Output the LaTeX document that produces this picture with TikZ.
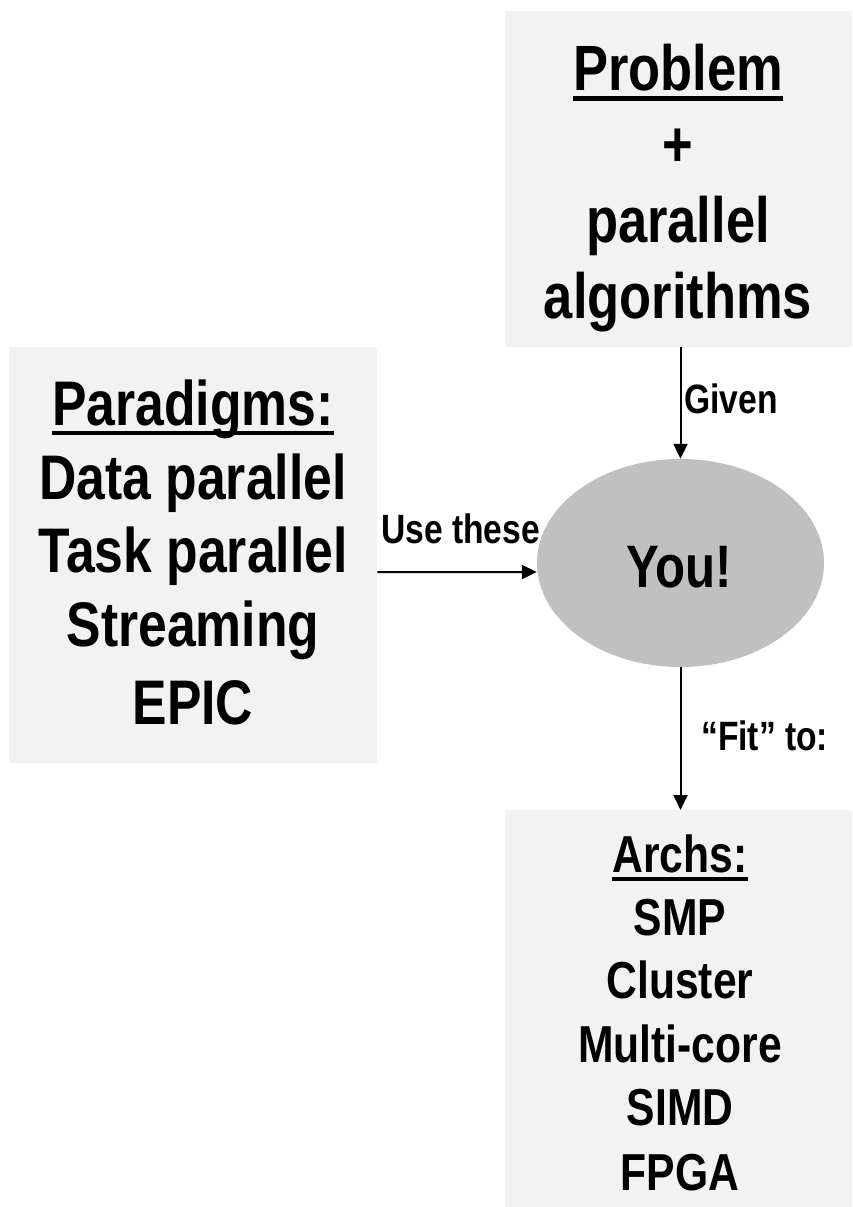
\documentclass[tikz,border=0pt]{standalone}
\usepackage{fontspec}
\newfontfamily\nar[FakeStretch=0.82]{Liberation Sans Bold}
\usetikzlibrary{shapes.geometric,arrows.meta}
\newcommand{\myul}[1]{\setbox0\hbox{#1}\rlap{\rule[-0.165em]{\wd0}{0.065em}}\box0}
\definecolor{boxgray}{HTML}{F2F2F2}
\definecolor{ellgray}{HTML}{C0C0C0}
\begin{document}
\begin{tikzpicture}[x=1pt,y=-1pt,
  panel/.style={fill=boxgray, draw=none, inner sep=0pt, anchor=north west},
  txt/.style={anchor=base, inner sep=0pt},
  fa/.style={font=\nar\fontsize{64}{76}\selectfont},
  fb/.style={font=\nar\fontsize{63}{74}\selectfont},
  fc/.style={font=\nar\fontsize{52}{63}\selectfont},
  lbl/.style={anchor=base west, inner sep=0pt, font=\nar\fontsize{41}{48}\selectfont},
  arr/.style={line width=2pt, -{Triangle[length=15pt,width=14pt]}}]
\useasboundingbox (0,0) rectangle (852,1207);
% panels
\node[panel, minimum width=347pt, minimum height=336pt] (prob) at (505,11) {};
\node[panel, minimum width=368pt, minimum height=416pt] (para) at (9,347) {};
\node[panel, minimum width=347pt, minimum height=397pt] (arch) at (505,810) {};
\node[ellipse, fill=ellgray, draw=none, inner sep=0pt, minimum width=287pt, minimum height=208pt] (you) at (680.5,563) {};
% top panel text
\node[txt, fa] (p1) at (678,90) {\myul{Problem}};
\node[txt, fa] (p2) at (678,166) {+};
\node[txt, fa] (p3) at (678,242) {parallel};
\node[txt, fa] (p4) at (678,318) {algorithms};
% left panel text
\node[txt, fb] (l1) at (193,425) {\myul{Paradigms:}};
\node[txt, fb] (l2) at (193,499) {Data parallel};
\node[txt, fb] (l3) at (193,572) {Task parallel};
\node[txt, fb] (l4) at (193,646) {Streaming};
\node[txt, fb] (l5) at (193,724) {EPIC};
% bottom panel text
\node[txt, fc] (a1) at (680,872) {\myul{Archs:}};
\node[txt, fc] (a2) at (680,935) {SMP};
\node[txt, fc] (a3) at (680,998) {Cluster};
\node[txt, fc] (a4) at (680,1062) {Multi-core};
\node[txt, fc] (a5) at (680,1125) {SIMD};
\node[txt, fc] (a6) at (680,1190) {FPGA};
% ellipse text
\node[txt, font=\nar\fontsize{60}{70}\selectfont] (y1) at (679,587) {You!};
% connectors
\draw[arr] (you.north |- prob.south) -- (you.north);
\draw[arr] ([yshift=-17pt]para.east) -- ([yshift=-9pt]you.west);
\draw[arr] (you.south) -- (you.south |- arch.north);
% labels
\node[lbl] (lg) at (684,413) {Given};
\node[lbl] (lu) at (381,543) {Use these};
\node[lbl] (lf) at (701,750) {“Fit” to:};
\end{tikzpicture}
\end{document}
